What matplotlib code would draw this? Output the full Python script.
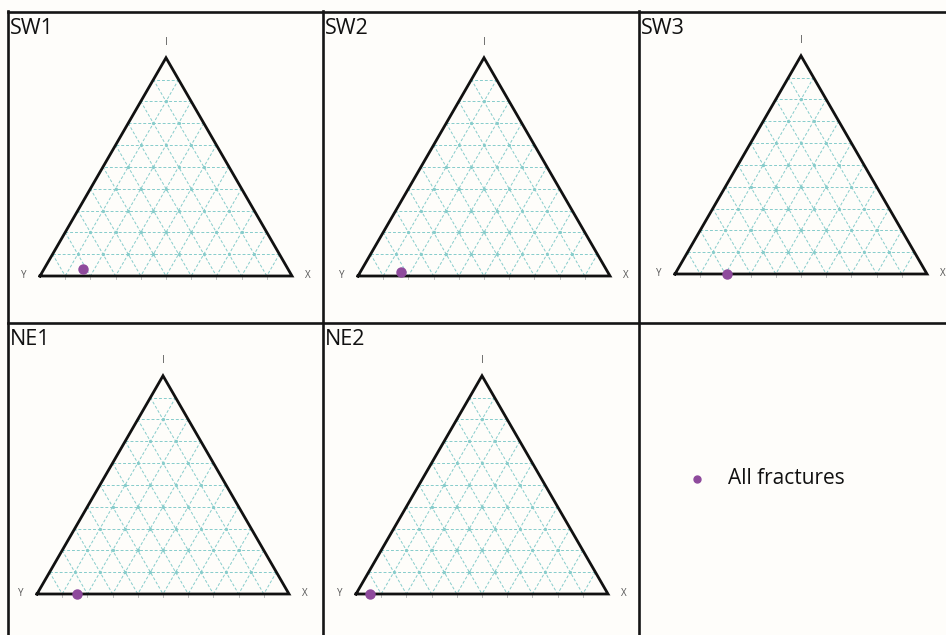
import numpy as np
from matplotlib import pyplot as plt
from matplotlib.lines import Line2D

# ternary compositions (I, X, Y) of the "All fractures" point per site
sites = ['SW1', 'SW2', 'SW3', 'NE1', 'NE2']
comp_I = [0.03, 0.02, 0.0, 0.0, 0.0]
comp_X = [0.155, 0.16, 0.205, 0.16, 0.055]
comp_Y = [0.815, 0.82, 0.795, 0.84, 0.945]
legend_label = 'All fractures'

W, H = 946, 635
PT = '#8e4a9c'
GRID = '#86cccb'
BG = '#fefdfa'

plt.rcParams['font.family'] = ['Open Sans', 'DejaVu Sans']

fig = plt.figure(figsize=(W / 100, H / 100), dpi=100, facecolor=BG)


def tern(i, x, y):
    i, x = np.asarray(i, float), np.asarray(x, float)
    return x + i / 2, i * np.sqrt(3) / 2


def panel_axes(px0, py0, px1, py1, base_x, base_y, scale=252):
    # px/py are pixel coords (y from top); base_x/base_y = pixel of the Y vertex
    ax = fig.add_axes([px0 / W, 1 - py1 / H, (px1 - px0) / W, (py1 - py0) / H])
    ax.set_xlim((px0 - base_x) / scale, (px1 - base_x) / scale)
    ax.set_ylim((base_y - py1) / scale, (base_y - py0) / scale)
    ax.axis('off')
    return ax


def draw_triangle(ax):
    f = np.arange(1, 10) / 10
    for t in f:
        # constant I (horizontal)
        xs, ys = tern([t, t], [1 - t, 0], [0, 1 - t])
        ax.plot(xs, ys, color=GRID, lw=0.7, ls=(0, (3, 2)), zorder=1)
        # constant X
        xs, ys = tern([1 - t, 0], [t, t], [0, 1 - t])
        ax.plot(xs, ys, color=GRID, lw=0.7, ls=(0, (3, 2)), zorder=1)
        # constant Y
        xs, ys = tern([1 - t, 0], [0, 1 - t], [t, t])
        ax.plot(xs, ys, color=GRID, lw=0.7, ls=(0, (3, 2)), zorder=1)
    # intersection dots
    for a in range(1, 10):
        for b in range(1, 10 - a):
            xs, ys = tern(a / 10, b / 10, 1 - (a + b) / 10)
            ax.plot(xs, ys, 'o', ms=1.3, color=GRID, zorder=1)
    # ticks under base
    for t in f:
        ax.plot([t, t], [0, -0.012], color='#b0b0b0', lw=0.6, zorder=1)
    xs, ys = tern([0, 0, 1, 0], [0, 1, 0, 0], [1, 0, 0, 1])
    ax.plot(xs, ys, color='#111111', lw=2.0, solid_joinstyle='miter', zorder=3)
    ax.text(0.5, np.sqrt(3) / 2 + 0.04, 'I', ha='center', va='bottom',
            fontsize=7, color='#555555')
    ax.text(-0.055, 0, 'Y', ha='right', va='center', fontsize=7, color='#555555')
    ax.text(1.05, 0, 'X', ha='left', va='center', fontsize=7, color='#555555')


cols = [(8, 323), (323, 639), (639, 946)]
rows = [(12, 323), (323, 635)]
base_pos = [(40, 276), (358, 276), (675, 274), (37, 594), (356, 594)]

for k, name in enumerate(sites):
    c0, c1 = cols[k % 3]
    r0, r1 = rows[k // 3]
    ax = panel_axes(c0, r0, c1, r1, *base_pos[k])
    draw_triangle(ax)
    px, py = tern(comp_I[k], comp_X[k], comp_Y[k])
    ax.plot(px, py, 'o', ms=6.5, color=PT, zorder=4)
    fig.text((c0 + 2) / W, 1 - (r0 + 22) / H, name, ha='left', va='baseline',
             fontsize=15.5, color='#111111')

# legend panel
lax = fig.add_axes([cols[2][0] / W, 1 - rows[1][1] / H,
                    (cols[2][1] - cols[2][0]) / W, (rows[1][1] - rows[1][0]) / H])
lax.axis('off')
lax.plot([0.189], [0.5], 'o', ms=5, color=PT, transform=lax.transAxes)
lax.text(0.29, 0.5, legend_label, ha='left', va='center', fontsize=15,
         color='#111111', transform=lax.transAxes)

# panel borders
def fline(x0, y0, x1, y1):
    fig.add_artist(Line2D([x0 / W, x1 / W], [1 - y0 / H, 1 - y1 / H],
                          color='#151515', lw=1.9))

fline(8, 11.5, W, 11.5)
fline(8, 323, W, 323)
for x in (8, 323, 639):
    fline(x, 11, x, H)

fig.savefig('out.png', dpi=100, facecolor=BG)
